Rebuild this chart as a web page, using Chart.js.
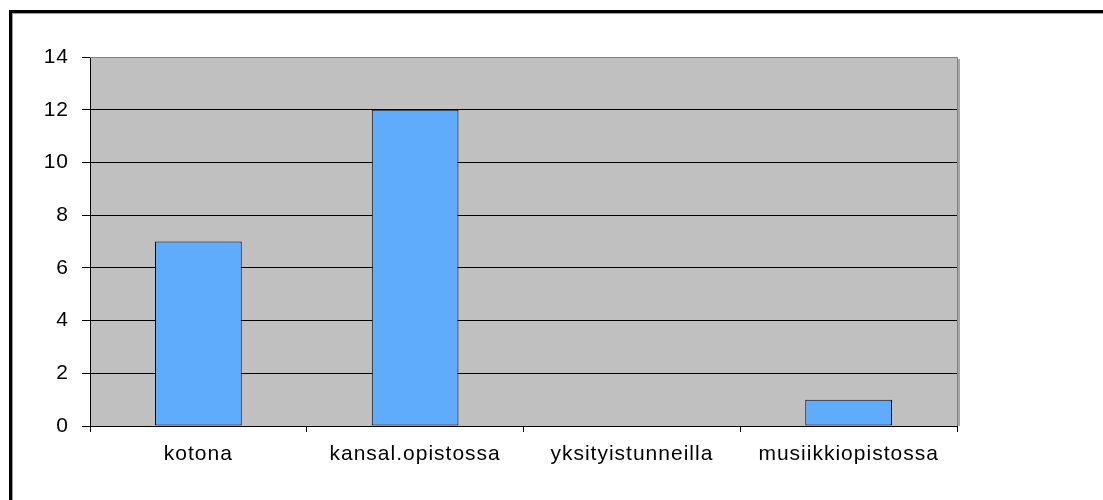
<!DOCTYPE html>
<html>
<head>
<meta charset="utf-8">
<script src="https://cdn.jsdelivr.net/npm/chart.js@4/dist/chart.umd.min.js"></script>
<style>
  html, body { margin: 0; padding: 0; background: #fff; }
  #frame {
    position: absolute; left: 9px; top: 10px; width: 1200px; height: 600px;
    border-left: 3px solid #000; border-top: 3px solid #000;
    box-shadow: inset 1px 1px 0 #9a9a9a;
  }
  #wrap { position: absolute; left: 0; top: 0; width: 1103px; height: 500px; }
</style>
</head>
<body>
<div id="frame"></div>
<div id="wrap"><canvas id="myChart" width="1103" height="500"></canvas></div>
<script>
const labels = [
  'kotona',
  'kansal.opistossa',
  'yksityistunneilla',
  'musiikkiopistossa',
];
const counts = [7, 12, 0, 1];
const yTicks = [0, 2, 4, 6, 8, 10, 12, 14];

// gray plot background, with a gray top/right edge and a soft shadow
const plotArea = {
  id: 'plotArea',
  beforeDraw(chart) {
    const {ctx, chartArea: a} = chart;
    ctx.save();
    ctx.fillStyle = '#c0c0c0';
    ctx.fillRect(a.left, a.top, a.right - a.left, a.bottom - a.top);
    ctx.restore();
    // slightly looser text, like the old GDI look
    ctx.letterSpacing = '1px';
  },
  afterDraw(chart) {
    const {ctx, chartArea: a} = chart;
    ctx.save();
    ctx.strokeStyle = '#a8a8a8';
    ctx.lineWidth = 2;
    ctx.beginPath();
    ctx.moveTo(a.right + 2, a.top + 2);
    ctx.lineTo(a.right + 2, a.bottom);
    ctx.stroke();
    ctx.strokeStyle = '#808080';
    ctx.lineWidth = 1;
    ctx.beginPath();
    ctx.moveTo(a.left, a.top + 0.5);
    ctx.lineTo(a.right + 0.5, a.top + 0.5);
    ctx.lineTo(a.right + 0.5, a.bottom);
    ctx.stroke();
    ctx.restore();
  }
};

const tickFont = { family: 'Liberation Sans', size: 21 };

const data = {
  labels: labels,
  datasets: [{
    data: counts,
    backgroundColor: 'rgb(96, 172, 252)',
    borderColor: '#000',
    borderWidth: 1,
    borderSkipped: false,
    barPercentage: 1,
    categoryPercentage: 0.4,
  }]
};

const config = {
  type: 'bar',
  data,
  plugins: [plotArea],
  options: {
    responsive: false,
    animation: false,
    layout: { padding: { left: 0, top: 57, right: 146, bottom: 0 } },
    plugins: { legend: { display: false }, tooltip: { enabled: false } },
    scales: {
      x: {
        afterFit(scale) { scale.height = 74; },
        grid: { drawOnChartArea: false, color: '#000', tickLength: 6, offset: true },
        border: { color: '#000', width: 1 },
        ticks: { color: '#000', padding: 10, font: tickFont },
      },
      y: {
        min: 0,
        max: 14,
        afterFit(scale) { scale.width = 90; },
        afterBuildTicks(scale) { scale.ticks = yTicks.map(v => ({ value: v })); },
        grid: {
          color: ctx => ctx.tick && ctx.tick.value === 14 ? '#808080' : '#000',
          tickColor: '#000',
          tickLength: 8,
        },
        border: { color: '#000', width: 1 },
        ticks: { color: '#000', padding: 13, font: tickFont },
      }
    }
  }
};

const myChart = new Chart(
  document.getElementById('myChart'),
  config
);
</script>
</body>
</html>
